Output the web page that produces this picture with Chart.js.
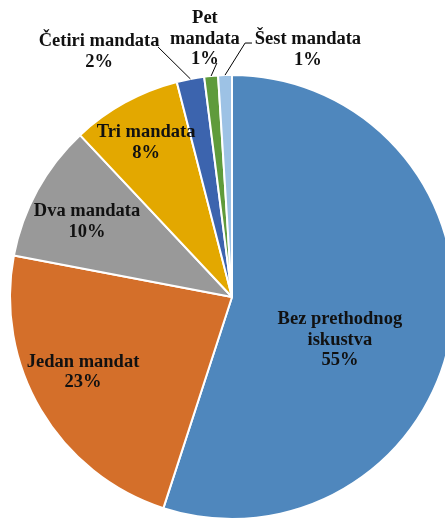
<html>
    <head>
        <script src="https://cdn.jsdelivr.net/npm/chart.js@4.4.0/dist/chart.umd.min.js"></script>
        <style>
            body {
                margin: 0px;
                overflow: hidden;
                background: #ffffff;
            }

            #wrap {
                position: absolute;
                left: 0px;
                top: 0px;
                width: 464px;
                height: 594px;
            }
        </style>
    </head>

    <body>
        <div id="wrap">
            <canvas id="chart"></canvas>
        </div>
        <script>
            const categories = ['Bez prethodnog iskustva', 'Jedan mandat', 'Dva mandata', 'Tri mandata', 'Četiri mandata', 'Pet mandata', 'Šest mandata']
            const shares = [55, 23, 10, 8, 2, 1, 1]
            // how each label is broken into lines
            const labelLines = [
                ['Bez prethodnog', 'iskustva'],
                ['Jedan mandat'],
                ['Dva mandata'],
                ['Tri mandata'],
                ['Četiri mandata'],
                ['Pet', 'mandata'],
                ['Šest mandata'],
            ]
            const colors = ['#4f87bd', '#d46f2a', '#999999', '#e3a800', '#3c64ae', '#5f9b3b', '#9dc2e5']

            // label block centres, in units of the pie radius from the pie centre
            const labelOffsets = [
                [0.486, 0.194],
                [-0.671, 0.338],
                [-0.653, -0.338],
                [-0.387, -0.694],
                [-0.599, -1.104],
                [-0.122, -1.162],
                [0.342, -1.113],
            ]
            // leader line start points for the outside labels (null = no leader)
            const leaderStarts = [null, null, null, null, [-0.333, -1.126], [-0.068, -1.054], [0.059, -1.144]]
            const leaderTicks = [null, null, null, null, null, null, [0.09, -1.144]]

            const pieLabels = {
                id: 'pieLabels',
                afterDatasetsDraw(chart) {
                    const ctx = chart.ctx
                    const meta = chart.getDatasetMeta(0)
                    const lineH = 20.5
                    ctx.save()
                    ctx.font = 'bold 18.5px "Liberation Serif", "Times New Roman", serif'
                    ctx.fillStyle = '#111111'
                    ctx.textAlign = 'center'
                    ctx.textBaseline = 'middle'
                    meta.data.forEach((arc, i) => {
                        const { x, y, outerRadius, startAngle, endAngle } = arc.getProps(['x', 'y', 'outerRadius', 'startAngle', 'endAngle'], true)
                        const r = outerRadius
                        const cx = x + labelOffsets[i][0] * r
                        const cy = y + labelOffsets[i][1] * r

                        if (leaderStarts[i]) {
                            const mid = (startAngle + endAngle) / 2
                            ctx.strokeStyle = '#000000'
                            ctx.lineWidth = 1
                            ctx.beginPath()
                            if (leaderTicks[i]) {
                                ctx.moveTo(x + leaderTicks[i][0] * r, y + leaderTicks[i][1] * r)
                                ctx.lineTo(x + leaderStarts[i][0] * r, y + leaderStarts[i][1] * r)
                            } else {
                                ctx.moveTo(x + leaderStarts[i][0] * r, y + leaderStarts[i][1] * r)
                            }
                            ctx.lineTo(x + Math.cos(mid) * r, y + Math.sin(mid) * r)
                            ctx.stroke()
                        }

                        const lines = labelLines[i].concat([shares[i] + '%'])
                        const top = cy - ((lines.length - 1) * lineH) / 2
                        lines.forEach((txt, k) => {
                            ctx.fillText(txt, cx, top + k * lineH)
                        })
                    })
                    ctx.restore()
                },
            }

            new Chart(document.getElementById('chart'), {
                type: 'pie',
                data: {
                    labels: categories,
                    datasets: [
                        {
                            data: shares,
                            backgroundColor: colors,
                            borderColor: '#ffffff',
                            borderWidth: 2,
                        },
                    ],
                },
                options: {
                    responsive: true,
                    maintainAspectRatio: false,
                    animation: false,
                    layout: {
                        padding: { left: 9, right: 9, top: 74, bottom: 74 },
                    },
                    plugins: {
                        legend: { display: false },
                        tooltip: { enabled: false },
                    },
                },
                plugins: [pieLabels],
            })
        </script>
    </body>
</html>
